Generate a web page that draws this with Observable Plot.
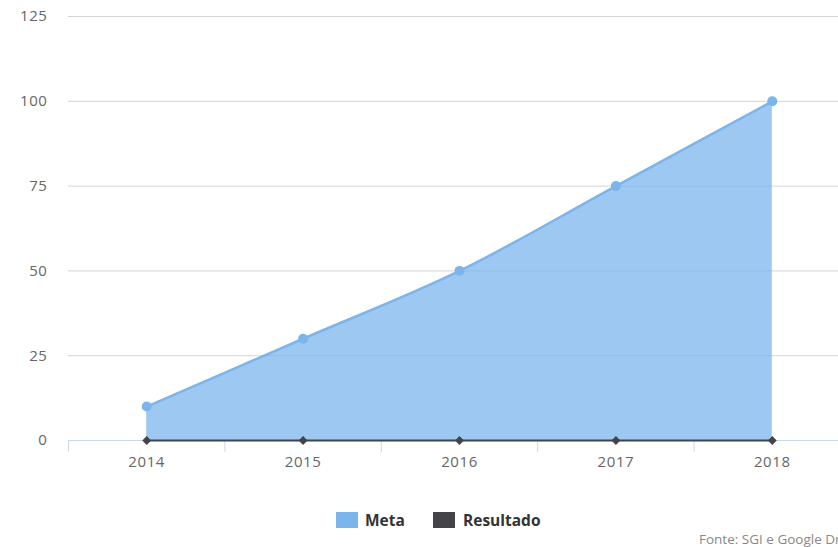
<!DOCTYPE html>
<html><head><meta charset="utf-8">
<script src="https://cdn.jsdelivr.net/npm/d3@7"></script>
<script src="https://cdn.jsdelivr.net/npm/@observablehq/plot@0.6"></script>
<style>
body{margin:0;background:#fff;overflow:hidden;font-family:"Open Sans",sans-serif;}
#wrap{position:relative;width:838px;height:547px;overflow:hidden;}
#chart svg{max-width:none !important;}
#legend{position:absolute;left:0;top:510px;width:838px;height:22px;}
.item{position:absolute;top:1px;font-weight:bold;font-size:15.5px;color:#333;line-height:18px;}
.sw{position:absolute;top:2px;width:22px;height:16px;}
#caption{position:absolute;left:699px;top:530px;font-size:13.5px;color:#888;white-space:nowrap;}
</style></head>
<body><div id="wrap"><div id="chart"></div>
<div id="legend"></div>
<div id="caption"></div></div>
<script>
const years = [2014, 2015, 2016, 2017, 2018];
const meta = [10, 30, 50, 75, 100];
const resultado = [0, 0, 0, 0, 0];
const yTicks = [0, 25, 50, 75, 100, 125];
const seriesNames = ["Meta", "Resultado"];
const seriesColors = ["#7cb5ec", "#434348"];
const captionText = "Fonte: SGI e Google Drive";

const metaData = years.map((y, i) => ({year: y, value: meta[i]}));
const resData = years.map((y, i) => ({year: y, value: resultado[i]}));
const bounds = years.map(y => y - 0.5);

const chart = Plot.plot({
  width: 850, height: 490,
  marginLeft: 68, marginRight: 0, marginTop: 16, marginBottom: 50,
  style: {fontFamily: "Open Sans, sans-serif", fontSize: "15px", color: "#666", background: "transparent", letterSpacing: "0.6px"},
  x: {type: "linear", domain: [years[0] - 0.5, years[years.length - 1] + 0.5], axis: null, label: null},
  y: {domain: [0, 125], axis: null, label: null},
  marks: [
    Plot.ruleY(yTicks.filter(d => d > 0), {stroke: "#d4d4d4", strokeWidth: 1}),
    Plot.areaY(metaData, {x: "year", y: "value", fill: "#7cb5ec", fillOpacity: 0.75, curve: "monotone-x"}),
    Plot.line(metaData, {x: "year", y: "value", stroke: "#7cb5ec", strokeWidth: 2.5, curve: "monotone-x"}),
    Plot.ruleY([0], {stroke: "#ccd6eb", strokeWidth: 1}),
    Plot.ruleX(bounds, {x: d => d, y1: 0, y2: 0, insetBottom: -12, stroke: "#ccd6eb", strokeWidth: 1}),
    Plot.line(resData, {x: "year", y: "value", stroke: "#434348", strokeWidth: 2}),
    Plot.dot(metaData, {x: "year", y: "value", r: 5, fill: "#7cb5ec"}),
    Plot.dot(resData, {x: "year", y: "value", r: 4, symbol: "diamond2", fill: "#434348"}),
    Plot.axisX(years, {tickSize: 0, tickPadding: 16, tickFormat: d => String(d), fill: "#666", label: null}),
    Plot.axisY(yTicks, {tickSize: 0, tickPadding: 21, fill: "#666", label: null})
  ]
});
document.getElementById("chart").appendChild(chart);

const legend = document.getElementById("legend");
const pos = [{sw: 336, tx: 365}, {sw: 433, tx: 463}];
seriesNames.forEach((n, i) => {
  const s = document.createElement("div");
  s.className = "sw"; s.style.left = pos[i].sw + "px"; s.style.background = seriesColors[i];
  legend.appendChild(s);
  const t = document.createElement("div");
  t.className = "item"; t.style.left = pos[i].tx + "px"; t.textContent = n;
  legend.appendChild(t);
});
document.getElementById("caption").textContent = captionText;
</script></body></html>
